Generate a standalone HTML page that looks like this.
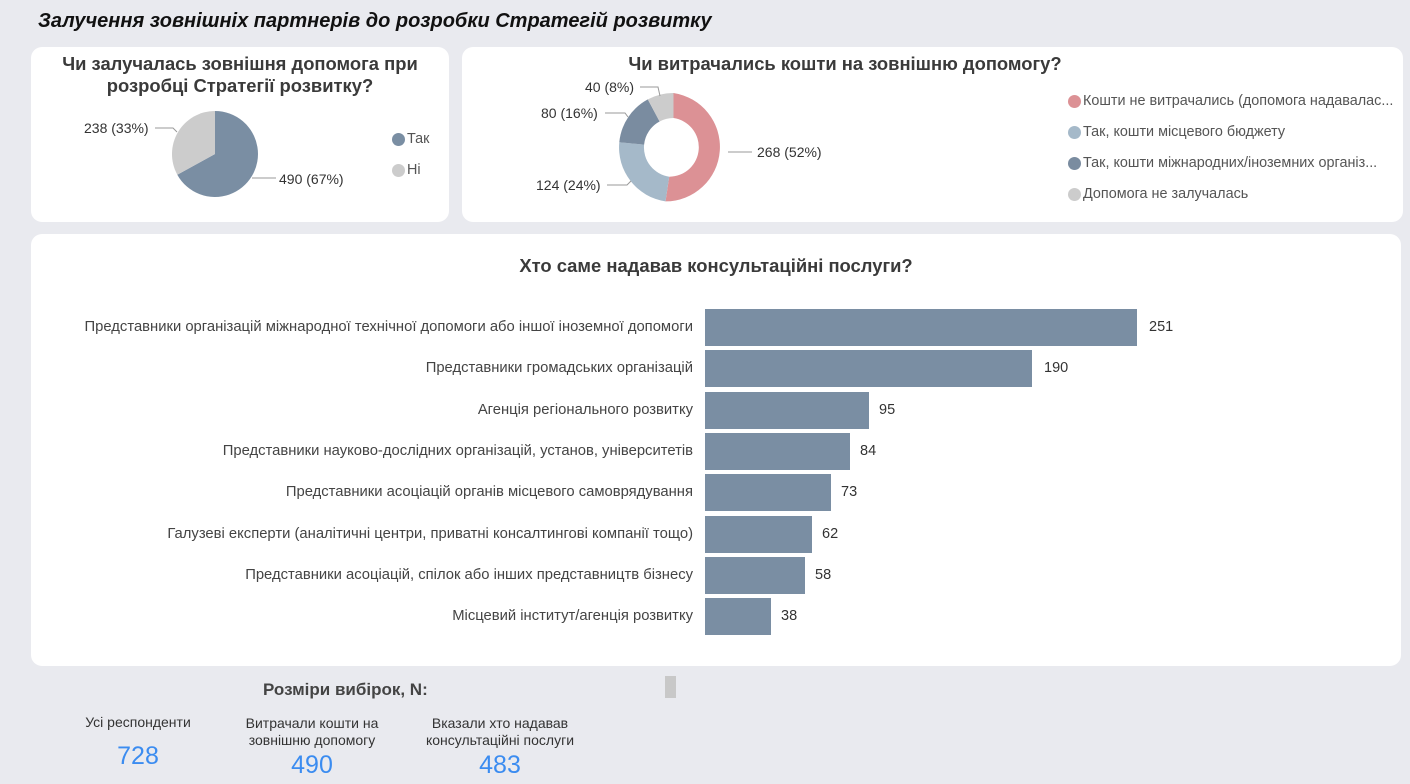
<!DOCTYPE html>
<html><head><meta charset="utf-8"><style>
*{margin:0;padding:0;box-sizing:border-box}
body{width:1410px;height:784px;background:#e9eaef;position:relative;overflow:hidden;font-family:"Liberation Sans","DejaVu Sans",sans-serif;color:#333}
.a{position:absolute;white-space:nowrap}
.card{position:absolute;background:#fff;border-radius:11px}
.t{font-weight:bold;font-size:18.4px;color:#3a3a3a;text-align:center}
.lab{font-size:14px;color:#333}
.leg{font-size:14.4px;color:#555;display:flex;align-items:center}
.dot{width:13px;height:13px;border-radius:50%;display:inline-block;margin-right:2px}
.bl{font-size:14.8px;color:#444;text-align:right;right:717px}
.bar{position:absolute;left:705px;height:37px;background:#7a8ea3}
.bv{font-size:14.5px;color:#333}
.n{color:#3b8cf0;font-size:25px;text-align:center}
.s{font-size:14px;color:#333;text-align:center;line-height:17px}
</style></head><body>
<div class="a" style="left:38px;top:10px;font-size:20px;font-weight:bold;font-style:italic;color:#111">Залучення зовнішніх партнерів до розробки Стратегій розвитку</div>

<div class="card" style="left:31px;top:47px;width:418px;height:175px"></div>
<div class="card" style="left:462px;top:47px;width:941px;height:175px"></div>
<div class="card" style="left:31px;top:234px;width:1370px;height:432px"></div>

<div class="a t" style="left:31px;top:53px;width:418px;line-height:22px">Чи залучалась зовнішня допомога при<br>розробці Стратегії розвитку?</div>
<div class="a t" style="left:600px;top:53px;width:490px">Чи витрачались кошти на зовнішню допомогу?</div>

<svg class="a" style="left:0;top:0" width="1410" height="784">
<path d="M215,154 L215,111 A43,43 0 1 1 177.3,174.7 Z" fill="#7a8ea3"/>
<path d="M215,154 L177.3,174.7 A43,43 0 0 1 215,111 Z" fill="#cccccc"/>
<polyline points="155,128 173,128 177,132" fill="none" stroke="#999" stroke-width="1"/>
<polyline points="252,178 276,178" fill="none" stroke="#999" stroke-width="1"/>
<path d="M673.5,93 A54.5,54.5 0 0 1 665.5,201.4 L669.2,176.7 A29.5,29.5 0 0 0 673.5,118 Z" fill="#dc9195"/>
<path d="M665.5,201.4 A54.5,54.5 0 0 1 619.3,142.2 L644.1,144.6 A29.5,29.5 0 0 0 669.2,176.7 Z" fill="#a5b9c9"/>
<path d="M619.3,142.2 A54.5,54.5 0 0 1 647.8,99.4 L659.6,121.5 A29.5,29.5 0 0 0 644.1,144.6 Z" fill="#7a8ca0"/>
<path d="M647.8,99.4 A54.5,54.5 0 0 1 673.5,93 L673.5,118 A29.5,29.5 0 0 0 659.6,121.5 Z" fill="#cccccc"/>
<polyline points="640,87 658,87 660,96" fill="none" stroke="#999"/>
<polyline points="605,113 625,113 628,117" fill="none" stroke="#999"/>
<polyline points="607,185 627,185 631,181" fill="none" stroke="#999"/>
<polyline points="728,152 752,152" fill="none" stroke="#999"/>
</svg>
<div class="a lab" style="left:84px;top:120px">238 (33%)</div>
<div class="a lab" style="left:279px;top:171px">490 (67%)</div>
<div class="a leg" style="left:392px;top:131px"><span class="dot" style="background:#7a8ea3"></span>Так</div>
<div class="a leg" style="left:392px;top:162px"><span class="dot" style="background:#cccccc"></span>Ні</div>

<div class="a lab" style="left:585px;top:79px">40 (8%)</div>
<div class="a lab" style="left:541px;top:105px">80 (16%)</div>
<div class="a lab" style="left:536px;top:177px">124 (24%)</div>
<div class="a lab" style="left:757px;top:144px">268 (52%)</div>

<div class="a leg" style="left:1068px;top:93px"><span class="dot" style="background:#dc9195"></span>Кошти не витрачались (допомога надавалас...</div>
<div class="a leg" style="left:1068px;top:124px"><span class="dot" style="background:#a5b9c9"></span>Так, кошти місцевого бюджету</div>
<div class="a leg" style="left:1068px;top:155px"><span class="dot" style="background:#7a8ca0"></span>Так, кошти міжнародних/іноземних організ...</div>
<div class="a leg" style="left:1068px;top:186px"><span class="dot" style="background:#cccccc"></span>Допомога не залучалась</div>

<div class="a t" style="left:31px;top:255px;width:1370px">Хто саме надавав консультаційні послуги?</div>

<div class="bar" style="top:309px;width:432px"></div><div class="a bv" style="left:1149px;top:319px">251</div>
<div class="a bl" style="top:319px">Представники організацій міжнародної технічної допомоги або іншої іноземної допомоги</div>
<div class="bar" style="top:350px;width:327px"></div><div class="a bv" style="left:1044px;top:360px">190</div>
<div class="a bl" style="top:360px">Представники громадських організацій</div>
<div class="bar" style="top:392px;width:164px"></div><div class="a bv" style="left:879px;top:402px">95</div>
<div class="a bl" style="top:402px">Агенція регіонального розвитку</div>
<div class="bar" style="top:433px;width:145px"></div><div class="a bv" style="left:860px;top:443px">84</div>
<div class="a bl" style="top:443px">Представники науково-дослідних організацій, установ, університетів</div>
<div class="bar" style="top:474px;width:126px"></div><div class="a bv" style="left:841px;top:484px">73</div>
<div class="a bl" style="top:484px">Представники асоціацій органів місцевого самоврядування</div>
<div class="bar" style="top:516px;width:107px"></div><div class="a bv" style="left:822px;top:526px">62</div>
<div class="a bl" style="top:526px">Галузеві експерти (аналітичні центри, приватні консалтингові компанії тощо)</div>
<div class="bar" style="top:557px;width:100px"></div><div class="a bv" style="left:815px;top:567px">58</div>
<div class="a bl" style="top:567px">Представники асоціацій, спілок або інших представництв бізнесу</div>
<div class="bar" style="top:598px;width:66px"></div><div class="a bv" style="left:781px;top:608px">38</div>
<div class="a bl" style="top:608px">Місцевий інститут/агенція розвитку</div>

<div class="a" style="left:263px;top:680px;font-size:17px;font-weight:bold;color:#444">Розміри вибірок, N:</div>
<div class="a" style="left:665px;top:676px;width:11px;height:22px;background:#c8c8c8"></div>
<div class="a s" style="left:68px;top:714px;width:140px">Усі респонденти</div>
<div class="a n" style="left:68px;top:742px;width:140px">728</div>
<div class="a s" style="left:232px;top:715px;width:160px">Витрачали кошти на<br>зовнішню допомогу</div>
<div class="a n" style="left:232px;top:751px;width:160px">490</div>
<div class="a s" style="left:410px;top:715px;width:180px">Вказали хто надавав<br>консультаційні послуги</div>
<div class="a n" style="left:410px;top:751px;width:180px">483</div>
</body></html>
